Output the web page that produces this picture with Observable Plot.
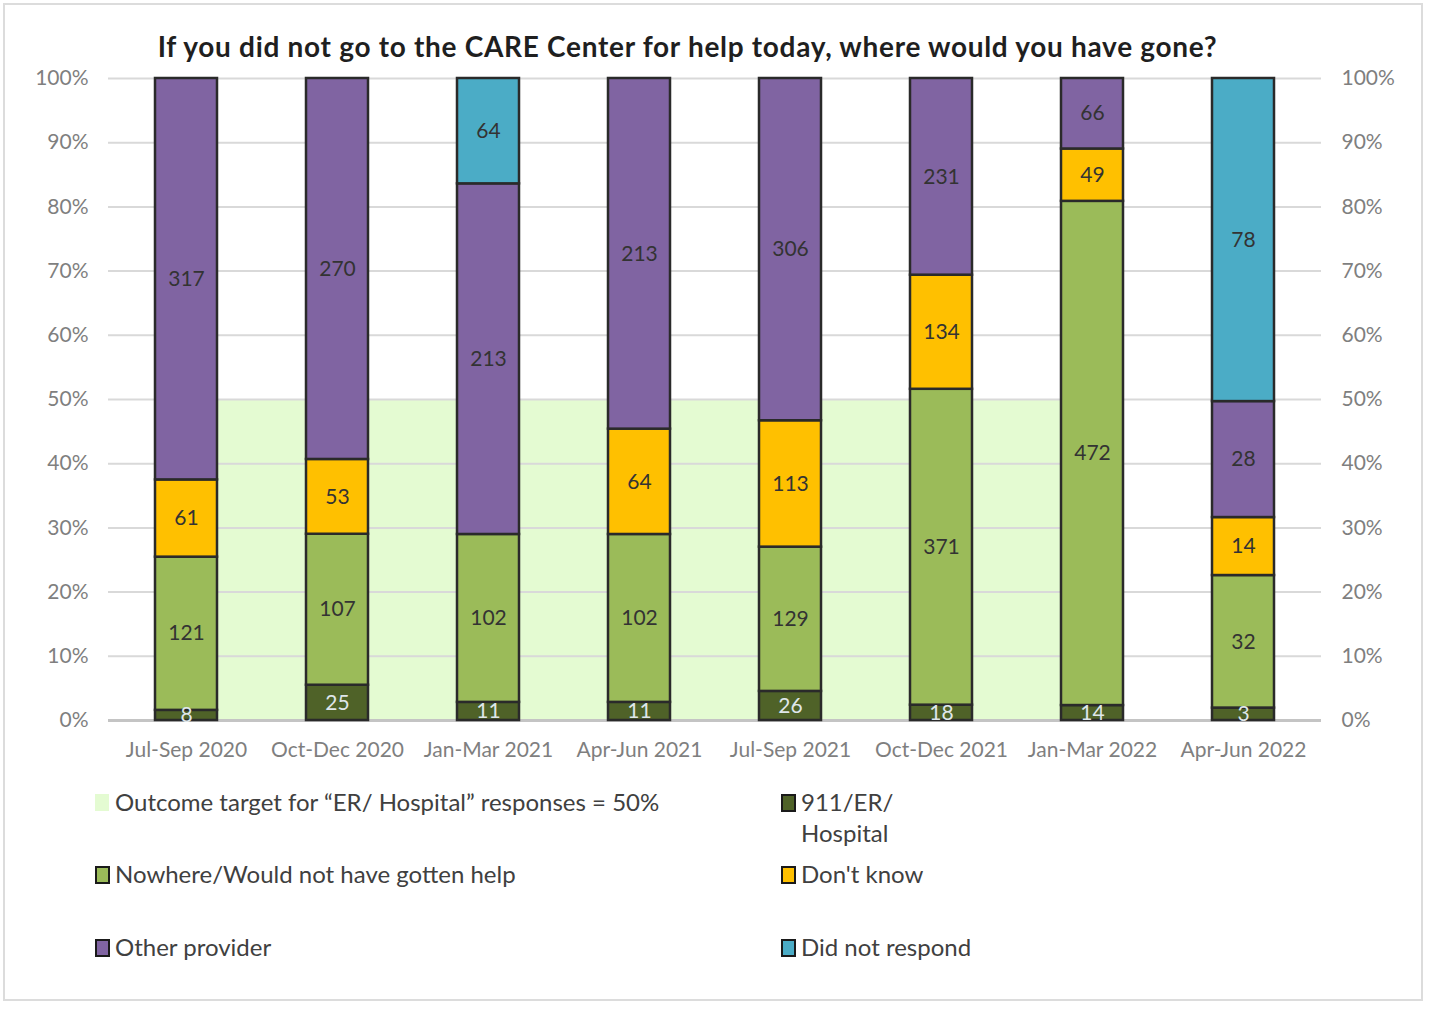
<!DOCTYPE html>
<html>
<head>
<meta charset="utf-8">
<script src="https://cdn.jsdelivr.net/npm/d3@7"></script>
<script src="https://cdn.jsdelivr.net/npm/@observablehq/plot@0.6"></script>
<style>
  html, body { margin: 0; padding: 0; background: #fff; }
  #wrap { position: relative; width: 1429px; height: 1009px; overflow: hidden; font-family: Lato, "Open Sans", sans-serif; }
  #frame { position: absolute; left: 3px; top: 3px; width: 1420px; height: 998px; border: 2px solid #dcdcdc; box-sizing: border-box; }
  #title { position: absolute; left: 0; width: 1375px; top: 29px; line-height: 34px; text-align: center; font-weight: bold; font-size: 28px; color: #1f1f1f; letter-spacing: 0.7px; }
  #chart { position: absolute; left: 0; top: 0; }
  .leg { position: absolute; font-size: 24px; color: #404040; line-height: 31px; white-space: nowrap; }
  .sw { position: absolute; width: 11px; height: 14px; border: 2px solid #1a1a1a; box-sizing: content-box; }
</style>
</head>
<body>
<div id="wrap">
  <div id="frame"></div>
  <div id="chart"></div>
  <div id="title">If you did not go to the CARE Center for help today, where would you have gone?</div>
  <div id="legend"></div>
</div>
<script>
const quarters = ["Jul-Sep 2020", "Oct-Dec 2020", "Jan-Mar 2021", "Apr-Jun 2021", "Jul-Sep 2021", "Oct-Dec 2021", "Jan-Mar 2022", "Apr-Jun 2022"];
const seriesNames = ["911/ER/ Hospital", "Nowhere/Would not have gotten help", "Don't know", "Other provider", "Did not respond"];
const erHospital = [8, 25, 11, 11, 26, 18, 14, 3];
const nowhere = [121, 107, 102, 102, 129, 371, 472, 32];
const dontKnow = [61, 53, 0, 64, 113, 134, 49, 14];
const otherProvider = [317, 270, 213, 213, 306, 231, 66, 28];
const didNotRespond = [0, 0, 64, 0, 0, 0, 0, 78];
const targetLabel = 'Outcome target for "ER/ Hospital" responses = 50%';
const targetShare = 0.5;
const targetQuarters = quarters.slice(0, 7);
const seriesColors = ["#4f6228", "#9bbb59", "#ffc000", "#8064a2", "#4bacc6"];
const targetColor = "#e4fbd2";

const seriesValues = [erHospital, nowhere, dontKnow, otherProvider, didNotRespond];
const rows = [];
quarters.forEach((q, i) => {
  seriesNames.forEach((s, j) => {
    const v = seriesValues[j][i];
    if (v > 0) rows.push({quarter: q, series: s, count: v});
  });
});
const targetRows = targetQuarters.map(q => ({quarter: q, value: targetShare}));

const stackOpts = {x: "quarter", y: "count", z: "series", order: seriesNames, offset: "normalize"};

const chart = Plot.plot({
  width: 1429,
  height: 775,
  marginTop: 78,
  marginBottom: 55,
  marginLeft: 108,
  marginRight: 108,
  style: {fontFamily: "Lato, 'Open Sans', sans-serif", background: "transparent"},
  x: {domain: quarters, paddingInner: 0.59, paddingOuter: 0.295, label: null},
  y: {domain: [0, 1], label: null},
  color: {domain: seriesNames, range: seriesColors},
  marks: [
    Plot.areaY(targetRows, {x: "quarter", y: "value", fill: targetColor}),
    Plot.gridY(d3.range(0, 1.0001, 0.1), {stroke: "#d9d9d9", strokeOpacity: 1, strokeWidth: 2}),
    Plot.ruleY([0], {stroke: "#c4c4c4", strokeWidth: 3}),
    Plot.barY(rows, {...stackOpts, fill: "series", stroke: "#2a2a2a", strokeWidth: 2.5}),
    Plot.text(rows, Plot.stackY({...stackOpts, text: "count", fontSize: 21,
      fill: d => d.series === seriesNames[0] ? "#dfe6ea" : "#333333"})),
    Plot.axisY(d3.range(0, 1.0001, 0.1), {anchor: "left", tickSize: 0, tickPadding: 20, tickFormat: d3.format(".0%"), fontSize: 21, fill: "#7f7f7f", label: null}),
    Plot.axisY(d3.range(0, 1.0001, 0.1), {anchor: "right", tickSize: 0, tickPadding: 20, tickFormat: d3.format(".0%"), fontSize: 21, fill: "#7f7f7f", label: null}),
    Plot.axisX({tickSize: 0, tickPadding: 22, fontSize: 21, fill: "#7f7f7f", label: null})
  ]
});
document.getElementById("chart").appendChild(chart);

// Legend
const legend = document.getElementById("legend");
const legendItems = [
  {label: targetLabel, color: targetColor, x: 95, y: 786, border: false},
  {label: "911/ER/<br>Hospital", color: seriesColors[0], x: 781, y: 786, border: true},
  {label: seriesNames[1], color: seriesColors[1], x: 95, y: 858, border: true},
  {label: seriesNames[2], color: seriesColors[2], x: 781, y: 858, border: true},
  {label: seriesNames[3], color: seriesColors[3], x: 95, y: 931, border: true},
  {label: seriesNames[4], color: seriesColors[4], x: 781, y: 931, border: true}
];
legendItems.forEach(it => {
  const sw = document.createElement("div");
  sw.className = "sw";
  sw.style.left = it.x + "px";
  sw.style.top = (it.y + 8) + "px";
  sw.style.background = it.color;
  if (!it.border) { sw.style.border = "none"; sw.style.width = "14px"; sw.style.height = "17px"; }
  legend.appendChild(sw);
  const t = document.createElement("div");
  t.className = "leg";
  t.style.left = (it.x + 20) + "px";
  t.style.top = it.y + "px";
  t.innerHTML = it.label.replace(/"/g, "&quot;").replace("&quot;ER", "\u201CER").replace("Hospital&quot;", "Hospital\u201D");
  legend.appendChild(t);
});
</script>
</body>
</html>
